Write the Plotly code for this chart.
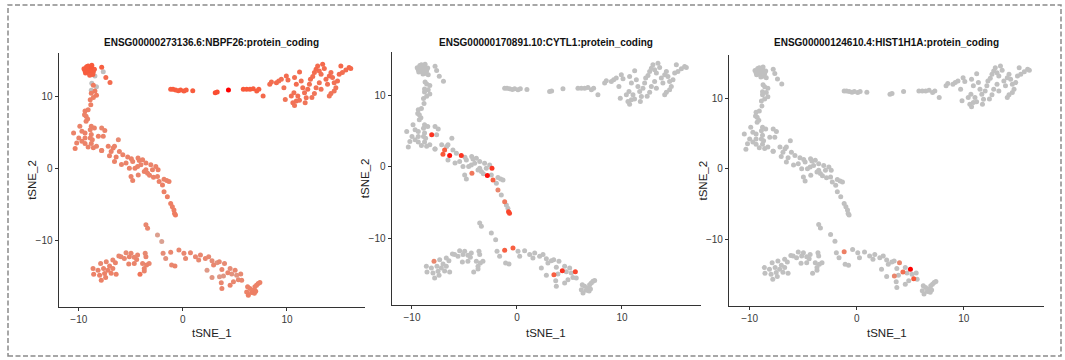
import numpy as np
import plotly.graph_objects as go

# ---------------- data: tSNE coordinates (shared by all panels) ----------------
# top-left cluster + stem
tl_x = [-9.4, -9.2, -9.1, -8.9, -8.8, -8.6, -9.35, -9.0, -8.75, -8.5, -9.15, -8.95, -9.5, -8.65, -9.25,
        -7.8, -7.65, -7.4, -7.0, -8.45, -8.75, -8.3, -8.8, -8.6, -8.45, -8.8, -8.3, -8.6, -8.9, -8.85,
        -9.1, -9.4, -9.45, -9.3, -9.15, -9.3]
tl_y = [13.6, 13.9, 14.3, 13.7, 14.1, 13.5, 13.3, 13.3, 14.4, 13.85, 13.6, 13.0, 13.9, 13.1, 14.2,
        14.1, 13.5, 12.7, 12.0, 12.9, 11.9, 11.4, 10.9, 11.6, 10.8, 10.5, 10.2, 9.9, 9.6, 8.9,
        8.2, 8.0, 7.5, 7.3, 6.9, 6.6]
tl_e1 = [0.72, 0.70, 0.72, 0.70, 0.75, 0.68, 0.70, 0.68, 0.72, 0.70, 0.72, 0.66, 0.70, 0.68, 0.72,
         0.70, 0.0, 0.62, 0.62, 0.0, 0.0, 0.0, 0.0, 0.52, 0.52, 0.50, 0.52, 0.48, 0.50, 0.50,
         0.48, 0.50, 0.48, 0.48, 0.47, 0.48]
tl_e2 = [0.0] * 36
tl_e3 = [0.0] * 36

# left blob
bl_x = [-9.9, -8.8, -8.5, -8.9, -7.8, -7.5, -10.5, -9.7, -9.4, -8.8, -8.12, -7.65, -10.0, -9.4, -8.9,
        -8.7, -9.7, -10.2, -9.4, -8.8, -8.3, -6.2, -7.8, -10.35, -8.6, -9.1]
bl_y = [5.9, 5.9, 5.65, 5.4, 5.65, 5.3, 4.95, 5.2, 4.95, 4.75, 4.5, 4.5, 4.25, 4.25, 4.25,
        4.0, 3.8, 3.55, 3.5, 3.5, 3.1, 4.0, 2.5, 2.8, 2.9, 3.0]
bl_e1 = [0.47, 0.47, 0.47, 0.47, 0.45, 0.47, 0.47, 0.47, 0.48, 0.47, 0.50, 0.47, 0.47, 0.48, 0.47,
         0.47, 0.47, 0.47, 0.48, 0.47, 0.45, 0.42, 0.45, 0.50, 0.47, 0.47]
bl_e2 = [0.0] * 10 + [0.85] + [0.0] * 15
bl_e3 = [0.0] * 26

# diagonal band
d_x = [-7.81, -7.17, -6.7, -6.57, -6.89, -7.05, -6.41, -6.57, -6.1, -5.77, -5.3, -5.46, -4.82, -5.14,
       -4.6, -4.19, -3.87, -4.03, -4.35, -3.55, -3.55, -3.08, -3.39, -3.71, -2.92, -2.38, -2.6, -4.29,
       -4.98, -4.82, -2.82, -2.44, -2.28, -1.96, -1.81, -1.55, -1.33, -1.81, -1.49, -1.17, -1.01,
       -0.86, -0.8, -0.71, -4.95, -4.31, -5.9, -3.2]
d_y = [2.52, 3.09, 2.85, 3.09, 2.38, 1.78, 1.59, 0.98, 2.38, 1.92, 1.59, 0.75, 0.98, 0.05, 0.05,
       1.12, 1.22, 0.51, 0.28, 0.75, -0.19, 0.51, -0.65, -0.42, -0.19, -0.19, 0.28, -0.89, -1.12,
       -1.68, -1.22, -1.12, -1.82, -2.29, -1.5, -1.68, -1.82, -3.23, -3.93, -4.87, -5.33, -5.8,
       -6.27, -6.5, 1.35, 1.45, 0.55, -0.95]
d_e1 = [0.47, 0.48, 0.47, 0.46, 0.48, 0.47, 0.49, 0.47, 0.46, 0.47, 0.48, 0.47, 0.46, 0.47, 0.48,
        0.47, 0.47, 0.46, 0.47, 0.48, 0.47, 0.46, 0.47, 0.48, 0.47, 0.49, 0.47, 0.46, 0.47, 0.47,
        0.48, 0.47, 0.48, 0.49, 0.47, 0.47, 0.48, 0.49, 0.50, 0.50, 0.49, 0.50, 0.52, 0.52, 0.47,
        0.47, 0.46, 0.47]
d_e2 = [0.0, 0.0, 0.0, 0.0, 0.70, 0.75, 0.95, 0.0, 0.0, 0.0, 0.85, 0.0, 0.0, 0.0, 0.0,
        0.0, 0.0, 0.0, 0.0, 0.0, 0.0, 0.0, 0.0, 0.0, 0.0, 0.85, 0.0, 0.55, 0.0, 0.0,
        0.95, 0.0, 0.70, 0.0, 0.0, 0.0, 0.0, 0.45, 0.0, 0.55, 0.0, 0.0, 0.80, 0.80, 0.0,
        0.0, 0.0, 0.0]
d_e3 = [0.0] * 48

# bottom island
b_x = [-3.55, -3.39, -2.44, -2.03, -1.9, -1.17, -0.38, -1.65, -1.08, -0.76, 0.1, 0.26, 0.73, 1.21,
       1.52, 1.69, 2.16, 2.48, 2.8, 2.95, 3.28, 3.5, 2.32, 2.8, 4.0, 3.75, 3.52, 4.32, 3.9, 3.69,
       3.75, 4.54, 4.7, 5.02, 5.17, 5.56, 4.86, 4.54, 5.65, 5.33, 6.13, 6.29, 6.44, 6.76, 6.6,
       6.92, 7.08, 7.24, 7.0, 6.87, 7.4, 6.22,
       -8.63, -8.57, -8.15, -8.0, -7.9, -7.84, -7.62, -7.52, -7.42, -7.36, -7.2, -7.04, -6.89,
       -6.73, -6.48, -6.41, -6.15, -6.73, -5.62, -5.46, -5.14, -4.98, -5.2, -4.67, -4.44, -4.35,
       -4.67, -4.12, -3.87, -3.62, -3.71, -3.55, -3.49, -3.24, -3.71, -5.94]
b_y = [-7.85, -8.32, -9.26, -10.19, -11.83, -11.69, -11.36, -12.53, -13.46, -13.6, -11.83, -12.53,
       -11.74, -12.29, -12.76, -12.06, -12.53, -12.29, -12.86, -13.46, -13.14, -13.0, -14.17,
       -15.19, -13.23, -14.07, -15.1, -14.54, -15.0, -15.94, -16.73, -13.93, -14.7, -14.17,
       -14.87, -14.7, -15.8, -16.27, -15.57, -15.5, -17.2, -17.67, -16.73, -16.96, -17.3, -16.5,
       -16.27, -16.03, -17.1, -17.4, -15.9, -16.5,
       -13.93, -14.73, -14.17, -14.87, -13.23, -15.57, -13.93, -14.63, -15.19, -13.0, -14.17,
       -13.6, -14.6, -12.76, -13.14, -14.73, -12.2, -13.93, -12.53, -11.74, -12.29, -11.83,
       -13.32, -12.39, -12.67, -12.06, -13.23, -14.73, -13.23, -11.83, -13.93, -12.29, -13.46,
       -13.23, -14.3, -12.29]
b_e1 = [0.44, 0.44, 0.26, 0.24, 0.40, 0.44, 0.44, 0.36, 0.44, 0.46, 0.44, 0.42, 0.44, 0.44,
        0.42, 0.44, 0.44, 0.42, 0.40, 0.44, 0.34, 0.42, 0.30, 0.34, 0.42, 0.44, 0.30, 0.44, 0.32,
        0.44, 0.46, 0.40, 0.36, 0.44, 0.34, 0.42, 0.44, 0.46, 0.44, 0.42, 0.48, 0.50, 0.48, 0.48,
        0.50, 0.48, 0.48, 0.48, 0.50, 0.48, 0.48, 0.48,
        0.46, 0.48, 0.46, 0.48, 0.44, 0.48, 0.46, 0.48, 0.46, 0.44, 0.48, 0.46, 0.48, 0.44, 0.46,
        0.48, 0.44, 0.46, 0.44, 0.42, 0.46, 0.44, 0.46, 0.44, 0.46, 0.44, 0.46, 0.56, 0.44, 0.42,
        0.46, 0.44, 0.46, 0.44, 0.46, 0.44]
b_e2 = [0.0] * 88
b_e3 = [0.0] * 88
for idx, val in [(5, 0.70), (6, 0.70), (26, 0.70), (27, 0.85), (35, 0.80), (56, 0.45)]:
    b_e2[idx] = val
for idx, val in [(5, 0.50), (24, 0.45), (26, 0.45), (27, 0.60), (33, 1.00), (39, 0.75)]:
    b_e3[idx] = val

# horizontal strip
h_x = [-1.17, -0.95, -0.7, -0.44, -0.22, 0.1, 0.32, 0.95, 3.11, 3.3, 4.38, 5.81, 6.13, 6.45, 6.76,
       7.09, 7.3, 7.71]
h_y = [11.03, 11.03, 10.94, 10.84, 10.94, 10.8, 10.94, 10.84, 10.56, 10.65, 10.94, 11.03, 11.03,
       11.03, 11.12, 10.8, 11.03, 10.1]
h_e1 = [0.70, 0.72, 0.70, 0.70, 0.72, 0.70, 0.70, 0.72, 0.78, 0.78, 1.00, 0.74, 0.74, 0.72, 0.72,
        0.70, 0.70, 0.64]
h_e2 = [0.0] * 18
h_e3 = [0.0] * 18

# top-right arc
tr_x = [8.35, 8.51, 8.99, 9.21, 9.46, 9.94, 10.1, 9.71, 9.84, 10.42, 10.57, 10.73, 10.9, 11.05,
        10.67, 10.9, 10.73, 11.21, 11.37, 11.52, 11.69, 11.75, 11.85, 12.0, 12.16, 12.26, 12.48,
        12.64, 12.8, 12.95, 13.11, 13.28, 13.43, 13.59, 13.11, 12.8, 13.28, 12.64, 13.75, 13.9,
        14.07, 14.23, 14.38, 14.54, 14.7, 14.86, 14.54, 15.02, 15.18, 15.33, 15.66, 15.97, 16.13,
        14.23, 14.07, 11.2, 12.4]
tr_y = [11.74, 12.06, 11.97, 12.2, 12.44, 12.9, 12.34, 11.26, 9.63, 10.1, 9.16, 8.79, 9.4, 10.1,
        10.56, 11.74, 12.67, 13.46, 12.2, 11.26, 10.56, 9.16, 9.86, 11.03, 11.74, 12.44, 12.81,
        13.37, 13.84, 14.3, 13.6, 13.14, 14.54, 13.93, 11.97, 11.26, 11.03, 10.47, 12.44, 11.74,
        12.9, 13.37, 12.67, 11.97, 11.26, 12.2, 10.8, 13.14, 14.3, 13.37, 13.74, 14.07, 13.93,
        10.47, 10.1, 9.5, 9.9]
tr_e1 = [0.62, 0.60, 0.62, 0.60, 0.59, 0.62, 0.60, 0.58, 0.56, 0.60, 0.58, 0.56, 0.58, 0.60,
         0.59, 0.62, 0.60, 0.62, 0.59, 0.60, 0.58, 0.56, 0.58, 0.60, 0.59, 0.62, 0.60, 0.62,
         0.64, 0.62, 0.60, 0.59, 0.64, 0.62, 0.58, 0.59, 0.58, 0.56, 0.60, 0.59, 0.62, 0.60,
         0.59, 0.58, 0.57, 0.60, 0.56, 0.62, 0.64, 0.60, 0.62, 0.64, 0.64, 0.57, 0.56, 0.57, 0.56]
tr_e2 = [0.0] * 57
tr_e3 = [0.0] * 57

genes = ["ENSG00000273136.6:NBPF26:protein_coding",
         "ENSG00000170891.10:CYTL1:protein_coding",
         "ENSG00000124610.4:HIST1H1A:protein_coding"]
tick_vals = [-10, 0, 10]
x_label = "tSNE_1"
y_label = "tSNE_2"

# ---------------- assemble ----------------
tsne_x = np.array(tl_x + bl_x + d_x + b_x + h_x + tr_x)
tsne_y = np.array(tl_y + bl_y + d_y + b_y + h_y + tr_y)
expr = [np.array(tl_e1 + bl_e1 + d_e1 + b_e1 + h_e1 + tr_e1),
        np.array(tl_e2 + bl_e2 + d_e2 + b_e2 + h_e2 + tr_e2),
        np.array(tl_e3 + bl_e3 + d_e3 + b_e3 + h_e3 + tr_e3)]

W, H = 1065, 360
colorscale = [[0.0, "#C0C0C0"], [0.25, "#DBA090"], [0.5, "#ED7F64"], [0.75, "#F95738"], [1.0, "#FF0000"]]

# plot areas in pixels: (left, right, top, bottom)
boxes = [(58.7, 365.0, 53.0, 307.3), (391.7, 700.7, 52.0, 305.0), (729.0, 1044.0, 55.0, 306.0)]
xr = [-11.93, 17.5]
yr = [-19.35, 16.1]

narrow = "Liberation Sans Narrow, Liberation Sans, Arial, sans-serif"
axcol = "#333333"

fig = go.Figure()
for i in range(3):
    e = expr[i]
    order = np.argsort(e, kind="stable")
    sfx = "" if i == 0 else str(i + 1)
    fig.add_trace(go.Scatter(
        x=tsne_x[order], y=tsne_y[order], mode="markers",
        marker=dict(color=e[order], colorscale=colorscale, cmin=0, cmax=1, size=5,
                    showscale=False, line=dict(width=0)),
        xaxis="x" + sfx, yaxis="y" + sfx, showlegend=False, hoverinfo="skip"))
    l, r, t, b = boxes[i]
    common = dict(showline=True, linecolor=axcol, linewidth=1.3, ticks="outside", ticklen=3,
                  tickwidth=1, tickcolor=axcol, showgrid=False, zeroline=False,
                  tickvals=tick_vals, tickfont=dict(family=narrow, size=10, color="#3a3a3a"))
    fig.layout["xaxis" + sfx] = dict(domain=[l / W, r / W], anchor="y" + sfx, range=xr, **common)
    fig.layout["yaxis" + sfx] = dict(domain=[1 - b / H, 1 - t / H], anchor="x" + sfx, range=yr, **common)
    cx = (l + r) / 2
    cy = (t + b) / 2
    fig.add_annotation(x=cx / W, y=1 - 42.5 / H, xref="paper", yref="paper", text="<b>%s</b>" % genes[i],
                       showarrow=False, font=dict(family="Liberation Sans, Arial, sans-serif", size=10, color="#111111"),
                       xanchor="center", yanchor="middle")
    fig.add_annotation(x=cx / W, y=1 - 333 / H, xref="paper", yref="paper", text=x_label,
                       showarrow=False, font=dict(family=narrow, size=11.5, color="#222222"),
                       xanchor="center", yanchor="middle")
    fig.add_annotation(x=(l - 27) / W, y=1 - cy / H, xref="paper", yref="paper", text=y_label,
                       showarrow=False, textangle=-90, font=dict(family=narrow, size=11.5, color="#222222"),
                       xanchor="center", yanchor="middle")

fig.add_shape(type="rect", xref="paper", yref="paper", x0=8 / W, x1=1061 / W, y0=1 - 356 / H, y1=1 - 5 / H,
              line=dict(color="#8a8a8a", width=1.5, dash="5px,2.5px"))

fig.update_layout(width=W, height=H, margin=dict(l=0, r=0, t=0, b=0),
                  plot_bgcolor="white", paper_bgcolor="white")
fig.write_html("out.html", config={"displayModeBar": False},
               post_script="document.body.style.margin='0';document.body.style.overflow='hidden';")
